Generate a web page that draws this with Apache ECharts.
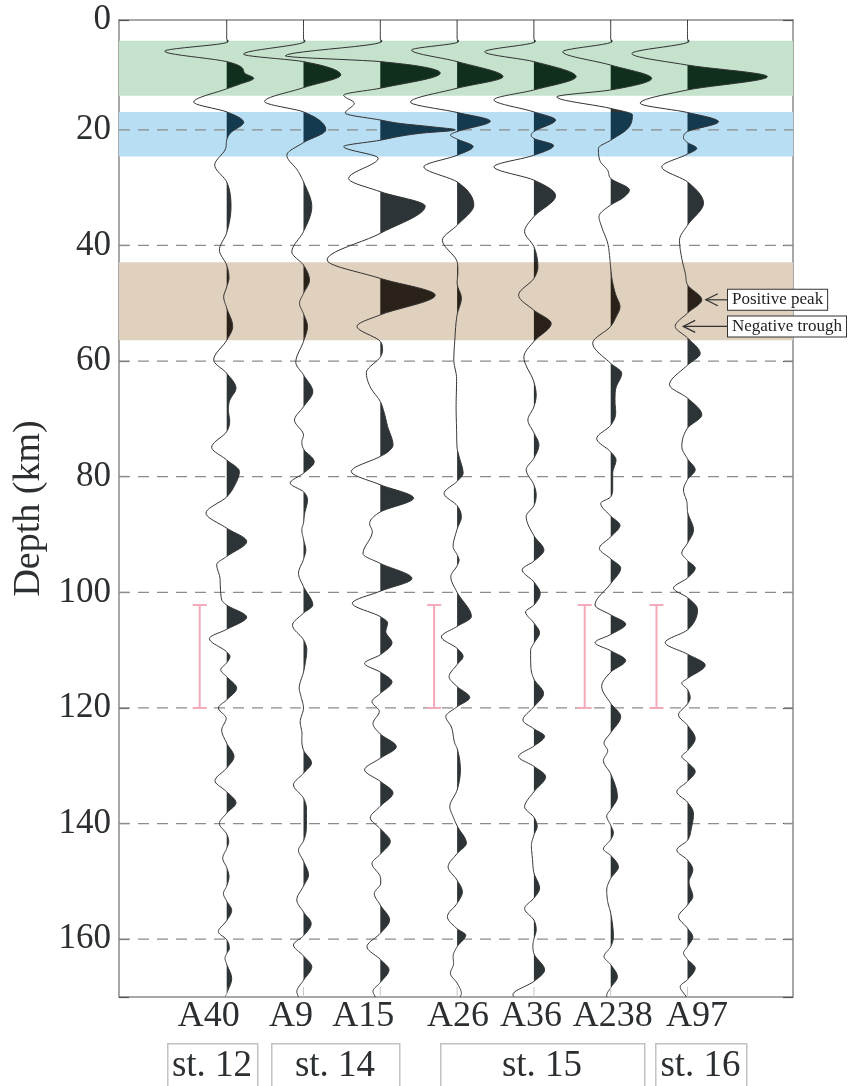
<!DOCTYPE html>
<html>
<head>
<meta charset="utf-8">
<title>Depth traces</title>
<script src="https://cdn.jsdelivr.net/npm/echarts@6/dist/echarts.min.js"></script>
<style>
  html, body { margin: 0; padding: 0; background: #fff; }
  #main { width: 851px; height: 1086px; }
</style>
</head>
<body>
<div id="main"></div>
<script>
// ---- data ----
var traceNames = ['A40', 'A9', 'A15', 'A26', 'A36', 'A238', 'A97'];
var stationNames = ['st. 12', 'st. 14', 'st. 15', 'st. 16'];
var depthTicks = [20, 40, 60, 80, 100, 120, 140, 160];

// [depth (km), amplitude] key points of each trace (peaks, troughs, zero crossings)
var traceA40 = [[1,0],[4.3,0],[4.6,1.5],[4.9,0],[6.4,-62],[8.2,0],[9.2,15],[10.2,18],[11.1,27],[12.1,13],[12.9,0],[15.2,-33],[16.9,0],[18.7,17],[20.5,4],[21.8,0],[23.2,-1],[26.1,-12],[29,0],[33.3,4.3],[37.8,0],[40.8,-7.3],[43.4,0],[45.6,2.3],[47.2,0],[48.9,-3],[50.8,0],[54,6],[56.4,0],[59.8,-13],[62.1,0],[64.7,9.3],[66.8,3],[68.5,1.7],[70.3,3],[72.2,0],[74.9,-15],[77.1,0],[79.1,12.7],[81.5,8],[83.5,0],[86.3,-20.7],[88.9,0],[91.2,20],[93.8,0],[95.2,-10],[97.6,-6.7],[101.3,-5],[102.2,0],[104.3,20],[106.4,0],[108,-17.3],[110.3,0],[111.1,3.3],[112.2,0],[113.4,-6],[114.6,0],[116.6,10],[118.6,0],[120,-8.3],[121.8,-0.5],[123.8,-5],[126.1,0],[128.4,7.3],[130.4,0],[132.6,-11.7],[134.5,0],[136.4,9.3],[138.2,0],[140,-7.3],[141.8,0],[143.2,2],[144.3,0],[146,-4],[147.6,0],[149.2,2.3],[150.8,0],[152.1,-3.3],[153.4,0],[155,5],[156.8,0],[158.7,-8.3],[160.1,0],[161.6,2.7],[162.5,0],[163.3,-1.7],[164.3,0],[166.8,5],[169.4,0],[170,-1]];
var traceA9 = [[1,0],[4.3,0],[4.6,1.5],[4.9,0],[6.9,-60],[8.2,0],[10.5,37.3],[12.7,0],[15.1,-39],[16.9,0],[20,22.3],[22.2,0],[24.4,-16.7],[27,-6],[29,0],[33.3,8.3],[37.6,0],[41.1,-11.7],[43.4,0],[46,6],[48.3,0],[50,-4],[51.8,0],[54,4],[56.6,0],[60.2,-7.7],[62.4,0],[65.3,9.3],[67.9,0],[70.2,-9],[72.8,0],[74,-1.7],[75.2,0],[77.4,10.7],[79.4,0],[81.1,-13.3],[82.6,0],[84,4],[86.5,1],[88,0],[89.2,-1.7],[90.8,0],[92.7,2.3],[94.3,0],[96.7,-5],[99,0],[102.2,9.3],[103.6,0],[105.7,-11],[108.2,0],[110,3.3],[112,2],[113.8,0],[116.6,-4.3],[118,-2.5],[120,0],[122.4,-3.3],[124.5,-1.5],[125.5,-1.7],[127.3,0],[129.5,8],[131.3,0],[133.3,-10],[135.6,0],[137.5,3],[139.5,3],[141.5,2.5],[143,0],[144.6,-5],[146.5,0],[148.9,5],[150.8,0],[153.2,-6.7],[155.3,0],[157.3,7.7],[159.4,0],[161,-10],[162.9,0],[164.8,8.3],[167.1,0],[169.1,-6.7],[170,-5]];
var traceA15 = [[1,0],[4.3,0],[4.6,1.5],[4.9,0],[7.2,-95],[8.2,0],[10.2,60],[12.8,0],[14,-36.7],[15.4,-26],[17.1,-35],[18.3,0],[18.9,20],[19.5,53],[20,75],[20.6,40],[21.1,20],[21.8,0],[22.9,-36.7],[24.9,-2],[28.4,-31.7],[30.7,0],[33.2,45],[37.9,0],[42.5,-53.3],[45.7,0],[48.6,55],[52,0],[54,-23.3],[56.6,0],[58.1,2.3],[59.3,0],[62,-14],[64.5,-10],[67,0],[69,4],[71.3,7.3],[74.5,12.7],[75.8,7],[76.5,0],[79.1,-29],[81.4,0],[83.7,33.3],[86.1,0],[88.1,-10.7],[89.5,-8],[93.3,-17.3],[95,0],[97.6,31.7],[99.8,0],[101.9,-28],[104.2,0],[105.3,7.3],[106.8,5.5],[108.7,11.7],[110.8,0],[112.3,-15.7],[113.8,0],[115.5,11.7],[117.5,0],[118.9,-8.3],[120.6,-1],[122.7,-7.3],[124.5,0],[126.7,16],[128.7,0],[130.7,-15.7],[132.7,0],[134.7,12.7],[137,0],[139,-10],[140.9,0],[143.1,10],[145.3,0],[146.9,-8.3],[149.2,0],[150.3,0.5],[152.1,-6],[154.1,0],[156.7,9.3],[159,0],[161.3,-13.3],[163.5,0],[165.3,8.7],[167.5,0],[169,-7.3],[170,-5]];
var traceA26 = [[1,0],[4.3,0],[4.6,1.5],[4.9,0],[6.2,-45.7],[8.2,0],[10.8,46],[12.8,0],[15.2,-46.7],[17,0],[18.5,33.3],[20.3,0],[20.9,-6.7],[21.6,0],[22.9,16],[24.4,0],[26.4,-33.3],[29,0],[33,16.7],[36.5,0],[39.1,-14.7],[42.8,0],[44.5,0.8],[46.5,0],[49.1,4.3],[52,0],[56.4,-2.3],[59.8,-3.3],[63,-0.5],[68,-1],[72,-0.5],[75,0],[76.5,2],[79.4,6],[80.8,0],[82.9,-13],[85,0],[86.9,4.3],[89.1,0],[92.1,-4],[93.5,0],[94.4,2],[95.4,0],[97.3,-6.3],[100,0],[104.2,14.3],[105.9,0],[107.7,-15.7],[109.7,0],[111.1,6],[112.5,0],[114.6,-8],[116.3,0],[118.2,12.7],[119.8,0],[121.5,-11.3],[123.3,-5.7],[126.1,-2.3],[127,0],[130.7,3.3],[134.2,0],[137.1,-7.3],[138.8,-4],[140.4,0],[143.4,9.3],[145.2,0],[147.5,-9],[149.8,0],[151.8,5.3],[153.8,0],[156.1,-9.7],[158.2,0],[159.3,8.7],[161.3,0],[163,-4],[164.2,-3.5],[165.9,-6.7],[167.6,0],[169.4,4.3],[170,3]];
var traceA36 = [[1,0],[4.3,0],[4.6,1.5],[4.9,0],[6.5,-49.3],[8.2,0],[10.8,42.3],[13.1,0],[14.8,-40],[16.9,0],[18.3,21.7],[20.3,0],[20.9,-2.7],[21.5,0],[22.7,19.7],[24.4,0],[26.4,-40],[28.7,0],[31.4,21.7],[35,0],[37.6,-9.3],[40.2,0],[43.7,4],[45.7,0],[48.6,-15.3],[51.2,0],[53.5,17.3],[56.6,0],[59.3,-10],[63.6,0],[65.9,2.3],[67.9,0],[70.2,-6],[72.4,0],[74.5,5],[76.8,0],[78.8,-7.7],[81.4,0],[83.2,2.3],[85,0],[86.9,-7.7],[90.2,0],[92.7,10],[94.6,0],[96.1,-11.7],[98.2,0],[100.2,6.3],[102.2,0],[103.4,-8.3],[105.3,0],[107,5.7],[108.8,0],[110,-3.3],[113,-3],[115,0],[117.5,9.7],[119.8,0],[122.1,-11],[123.6,0],[124.9,10.7],[126.6,0],[128.4,-15.3],[130.1,0],[131.9,11.7],[134.5,0],[137.1,-9.3],[138.9,0],[140.5,3.3],[142,0],[143.8,-2.5],[146,-1.5],[148.5,0],[151.2,5.7],[152.9,0],[154.7,-9.3],[156.7,0],[158.4,2.3],[160,0],[161,-1],[162.5,0],[165.3,10.7],[167.3,0],[169.6,-21],[170,-20]];
var traceA238 = [[1,0],[4.3,0],[4.6,1.5],[4.9,0],[6.5,-48],[8.8,0],[11.1,41],[13.1,0],[14.3,-54],[16.3,0],[17.4,21.7],[19.8,17],[21.8,0],[23.2,-12.3],[25.5,-10.3],[27,-3],[28.4,0],[30.4,18.7],[31.8,12],[33,0],[35,-11.7],[36.8,-9],[39.6,-3],[42,-1],[43.9,0],[46,1.5],[48.5,5],[50.6,9.3],[52.5,5],[54,0],[56.9,-18],[60.4,0],[62.1,11],[64.8,5],[66.9,4.3],[69,5],[71.1,0],[73.4,-14],[75.7,0],[77.1,5.3],[79.4,2],[82,2],[83.5,0],[84.6,-10],[86.8,0],[88.4,9.3],[90.4,0],[92.4,-11.3],[94.2,0],[95.8,10],[98.5,0],[102.2,-15.7],[103.9,0],[105.5,15],[107.3,0],[108.7,-15.7],[110.1,0],[111.8,15],[113.8,0],[116.3,-9],[119.2,0],[121.5,10],[124.3,0],[126.1,-6.7],[127.4,-3],[129.1,-7.3],[131.4,0],[135.4,6.7],[137.6,0],[138.7,-4],[140.3,0],[141.6,2.7],[142.8,0],[144.4,-7.3],[145.5,0],[147.5,7.7],[149.5,0],[151.5,-4],[153.5,-3],[155.5,0],[159.6,2.7],[161.3,0],[163,-6.7],[164.4,0],[166.5,6.7],[168.4,0],[169.7,-4],[170,-4]];
var traceA97 = [[1,0],[4.3,0],[4.6,1.5],[4.9,0],[6.8,-55.7],[8.8,0],[10.8,80],[13.1,0],[15.4,-47.3],[17,0],[18.6,31],[20.3,0],[21.4,-4],[22.2,0],[23.2,9.3],[24.2,0],[26.4,-25.7],[29,0],[32.7,16],[36.5,0],[39.1,-8],[42,-6],[45,-2],[46.8,0],[49.4,14.3],[51.7,0],[54,-12.3],[56,0],[58.7,12.7],[60.7,0],[64.1,-18],[66.4,0],[69.3,14.3],[71.6,0],[74.8,-5.7],[76.9,0],[78.8,7.7],[80.5,0],[82.3,-4],[84.5,-0.5],[86,0],[89.2,6],[91.5,0],[93.2,-5.7],[94.5,0],[95.8,7.7],[97.5,0],[99.3,-14],[100.9,0],[103,10],[106.5,0],[108.7,-22.3],[110.7,0],[112.6,17.7],[114.9,0],[115.7,-5.7],[116.8,0],[118.3,2.7],[119.3,0],[121.2,-9],[123,0],[125.3,7.7],[127.4,0],[128.4,-5.7],[129.4,0],[131,7.7],[132.7,0],[134.5,-10.7],[136.3,0],[138.3,6],[140.7,4],[142.9,0],[144.6,-10.7],[146.3,0],[148,5.3],[150.1,1.5],[152.6,5.3],[154.1,0],[156.1,-9],[158.1,0],[159.6,5.3],[161.3,0],[162.4,-4],[163.5,0],[165,7.7],[167,0],[168.2,-7.3],[170,-1]];
var traces = [traceA40, traceA9, traceA15, traceA26, traceA36, traceA238, traceA97];

// highlighted depth bands (km)
var bandTop = [4.6, 16.9, 42.9];
var bandBottom = [14.1, 24.6, 56.4];

// pink depth-range bars, next to these traces
var rangeTraces = [0, 3, 5, 6];
var rangeTop = [102.2, 102.2, 102.2, 102.2];
var rangeBottom = [120, 120, 120, 120];

// annotated phases on A97
var noteTrace = [6, 6];
var noteDepth = [49.4, 54];
var noteAmp = [14.3, -12.3];
var noteText = ['Positive peak', 'Negative trough'];

// ---- layout / style ----
var SPACING = 76.8;            // trace spacing in amplitude units
var X_MIN = -107.7, X_MAX = 566.3;
var D_MIN = 1, D_MAX = 170;
var FONT = '"Liberation Serif", "DejaVu Serif", serif';
var TEXT = '#2b2f31';
var FILL = '#2d3437';
var bandColors = ['#c4e2cc', '#b8def3', '#e0d0be'];
var bandFill = ['#10301d', '#143a50', '#2a2219'];
var labelShift = [-18, -12.5, -17, 1, -3, 2, 9.5];
var rangeShift = [-27, -23, -26, -31];
var stationBox = [[167, 257], [271, 399], [440, 644], [655, 746]];

// monotone cubic through the key points, so peaks stay where they were read
function smoothTrace(pts, steps) {
  var n = pts.length, h = [], s = [], m = [], k;
  for (k = 0; k < n - 1; k++) {
    h[k] = pts[k + 1][0] - pts[k][0];
    s[k] = (pts[k + 1][1] - pts[k][1]) / h[k];
  }
  m[0] = s[0];
  m[n - 1] = s[n - 2];
  for (k = 1; k < n - 1; k++) {
    m[k] = s[k - 1] * s[k] <= 0 ? 0 : (s[k - 1] + s[k]) / 2;
  }
  for (k = 0; k < n - 1; k++) {
    if (s[k] === 0) { m[k] = 0; m[k + 1] = 0; continue; }
    var a = m[k] / s[k], b = m[k + 1] / s[k], q = a * a + b * b;
    if (q > 9) {
      var tau = 3 / Math.sqrt(q);
      m[k] = tau * a * s[k];
      m[k + 1] = tau * b * s[k];
    }
  }
  var out = [];
  for (k = 0; k < n - 1; k++) {
    for (var j = 0; j < steps; j++) {
      var t = j / steps, t2 = t * t, t3 = t2 * t;
      var v = (2 * t3 - 3 * t2 + 1) * pts[k][1] + (t3 - 2 * t2 + t) * h[k] * m[k] +
              (-2 * t3 + 3 * t2) * pts[k + 1][1] + (t3 - t2) * h[k] * m[k + 1];
      out.push([pts[k][0] + t * h[k], v]);
    }
  }
  out.push(pts[n - 1]);
  return out;
}

// fill colour changes inside the coloured bands
function fillGradient(api) {
  var y0 = api.coord([0, D_MIN])[1], y1 = api.coord([0, D_MAX])[1];
  var stops = [{ offset: 0, color: FILL }];
  for (var b = 0; b < bandTop.length; b++) {
    var f0 = (api.coord([0, bandTop[b]])[1] - y0) / (y1 - y0);
    var f1 = (api.coord([0, bandBottom[b]])[1] - y0) / (y1 - y0);
    stops.push({ offset: f0, color: FILL }, { offset: f0, color: bandFill[b] },
               { offset: f1, color: bandFill[b] }, { offset: f1, color: FILL });
  }
  stops.push({ offset: 1, color: FILL });
  return new echarts.graphic.LinearGradient(0, y0, 0, y1, stops, true);
}

function renderTrace(params, api) {
  var i = api.value(0);
  var base = i * SPACING;
  var pts = smoothTrace(traces[i], 10);
  var fill = fillGradient(api);
  var children = [];
  var poly = null;
  for (var k = 1; k < pts.length; k++) {
    var p0 = pts[k - 1], p1 = pts[k], dz;
    if (p0[1] <= 0 && p1[1] > 0) {
      dz = p0[0] + (p1[0] - p0[0]) * (-p0[1]) / (p1[1] - p0[1]);
      poly = [api.coord([base, dz]), api.coord([base + p1[1], p1[0]])];
    } else if (p0[1] > 0 && p1[1] > 0) {
      poly.push(api.coord([base + p1[1], p1[0]]));
    } else if (p0[1] > 0 && p1[1] <= 0) {
      dz = p0[0] + (p1[0] - p0[0]) * p0[1] / (p0[1] - p1[1]);
      poly.push(api.coord([base, dz]));
      children.push({ type: 'polygon', shape: { points: poly }, style: { fill: fill } });
      poly = null;
    }
  }
  children.push({
    type: 'polyline',
    shape: { points: pts.map(function (p) { return api.coord([base + p[1], p[0]]); }) },
    style: { stroke: '#333', lineWidth: 1, fill: null }
  });
  var bottom = api.coord([base, D_MAX]);
  children.push({
    type: 'line',
    shape: { x1: bottom[0], y1: bottom[1], x2: bottom[0], y2: bottom[1] - 10 },
    style: { stroke: '#c8c8c8', lineWidth: 1 }
  });
  children.push({
    type: 'text',
    x: bottom[0] + labelShift[i], y: bottom[1] + 20,
    style: {
      text: traceNames[i], fontSize: 36, fontFamily: FONT, fill: TEXT,
      align: 'center', verticalAlign: 'middle', textAlign: 'center', textVerticalAlign: 'middle'
    }
  });
  return { type: 'group', children: children };
}

function renderBand(params, api) {
  var b = api.value(0);
  var p0 = api.coord([X_MIN, bandTop[b]]), p1 = api.coord([X_MAX, bandBottom[b]]);
  return {
    type: 'rect',
    shape: { x: p0[0], y: p0[1], width: p1[0] - p0[0], height: p1[1] - p0[1] },
    style: { fill: bandColors[b] }
  };
}

function renderGridLine(params, api) {
  var d = api.value(0);
  var p0 = api.coord([X_MIN, d]), p1 = api.coord([X_MAX, d]);
  return {
    type: 'line',
    shape: { x1: p0[0], y1: p0[1], x2: p1[0], y2: p1[1] },
    style: { stroke: '#8c8c8c', lineWidth: 1.3, lineDash: [11, 8] }
  };
}

function renderRange(params, api) {
  var r = api.value(0);
  var base = rangeTraces[r] * SPACING;
  var top = api.coord([base, rangeTop[r]]), bot = api.coord([base, rangeBottom[r]]);
  var x = top[0] + rangeShift[r];
  var st = { stroke: '#f4a9b9', lineWidth: 2 };
  return {
    type: 'group',
    children: [
      { type: 'line', shape: { x1: x, y1: top[1], x2: x, y2: bot[1] }, style: st },
      { type: 'line', shape: { x1: x - 7, y1: top[1], x2: x + 7, y2: top[1] }, style: st },
      { type: 'line', shape: { x1: x - 7, y1: bot[1], x2: x + 7, y2: bot[1] }, style: st }
    ]
  };
}

function renderNote(params, api) {
  var n = api.value(0);
  var base = noteTrace[n] * SPACING;
  var p = api.coord([base + noteAmp[n], noteDepth[n]]);
  var tip = p[0] + (noteAmp[n] > 0 ? 4 : 8);
  var boxX = api.coord([base, 0])[0] + 40.5;
  var st = { stroke: '#333', lineWidth: 1.2, fill: null };
  return {
    type: 'group',
    children: [
      { type: 'line', shape: { x1: tip, y1: p[1], x2: boxX, y2: p[1] }, style: st },
      { type: 'polyline', shape: { points: [[tip + 12, p[1] - 6], [tip, p[1]], [tip + 12, p[1] + 6]] }, style: st },
      {
        type: 'text', x: boxX, y: p[1],
        style: {
          text: noteText[n], fontSize: 17, fontFamily: FONT, fill: '#222',
          align: 'left', verticalAlign: 'middle', textAlign: 'left', textVerticalAlign: 'middle',
          backgroundColor: '#fff', borderColor: '#333', borderWidth: 1, padding: [2, 4, 1, 4]
        }
      }
    ]
  };
}

function idx(arr) { return arr.map(function (v, i) { return [i, 1]; }); }

var chart = echarts.init(document.getElementById('main'), null, { renderer: 'canvas' });

var axisLine = { show: true, onZero: false, lineStyle: { color: '#8a8a8a', width: 1.5 } };
var yBase = {
  type: 'value', inverse: true, min: D_MIN, max: D_MAX,
  splitNumber: 8, minInterval: 20, maxInterval: 20,
  axisLine: axisLine,
  axisTick: { show: true, inside: true, length: 10, lineStyle: { color: '#555', width: 1.2 } },
  splitLine: { show: false }
};

var graphics = [];
stationNames.forEach(function (name, s) {
  var b = stationBox[s];
  graphics.push({
    type: 'rect', left: b[0], top: 1043,
    shape: { x: 0, y: 0, width: b[1] - b[0], height: 60 },
    style: { fill: '#fff', stroke: '#c2c2c2', lineWidth: 1.5 }
  });
  graphics.push({
    type: 'text', x: (b[0] + b[1]) / 2, y: 1066,
    style: {
      text: name, fontSize: 37, fontFamily: FONT, fill: TEXT,
      align: 'center', verticalAlign: 'middle', textAlign: 'center', textVerticalAlign: 'middle'
    }
  });
});

var option = {
  animation: false,
  backgroundColor: '#fff',
  grid: { left: 119, right: 58, top: 20, bottom: 89, containLabel: false, outerBoundsMode: 'none' },
  xAxis: [
    { type: 'value', min: X_MIN, max: X_MAX, position: 'bottom', axisLine: axisLine,
      axisTick: { show: false }, axisLabel: { show: false }, splitLine: { show: false } },
    { type: 'value', min: X_MIN, max: X_MAX, position: 'top', axisLine: axisLine,
      axisTick: { show: false }, axisLabel: { show: false }, splitLine: { show: false } }
  ],
  yAxis: [
    Object.assign({}, yBase, {
      position: 'left',
      name: 'Depth (km)', nameLocation: 'middle', nameGap: 68,
      nameTextStyle: { fontSize: 38, fontFamily: FONT, color: TEXT },
      axisLabel: {
        fontSize: 35, fontFamily: FONT, color: TEXT, margin: 8,
        formatter: function (v) {
          if (v <= D_MIN + 0.001) return '0';
          if (v >= D_MAX) return '';
          return String(v);
        }
      }
    }),
    Object.assign({}, yBase, { position: 'right', axisLabel: { show: false } })
  ],
  series: [
    { type: 'custom', name: 'bands', z: 1, silent: true, renderItem: renderBand, data: idx(bandTop) },
    { type: 'custom', name: 'grid', z: 2, silent: true, renderItem: renderGridLine,
      data: depthTicks.map(function (d) { return [d, d]; }) },
    { type: 'custom', name: 'ranges', z: 3, silent: true, clip: false, renderItem: renderRange, data: idx(rangeTraces) },
    { type: 'custom', name: 'traces', z: 4, silent: true, clip: false, renderItem: renderTrace, data: idx(traces) },
    { type: 'custom', name: 'notes', z: 5, silent: true, clip: false, renderItem: renderNote, data: idx(noteText) }
  ],
  graphic: graphics
};

chart.setOption(option);
</script>
</body>
</html>
